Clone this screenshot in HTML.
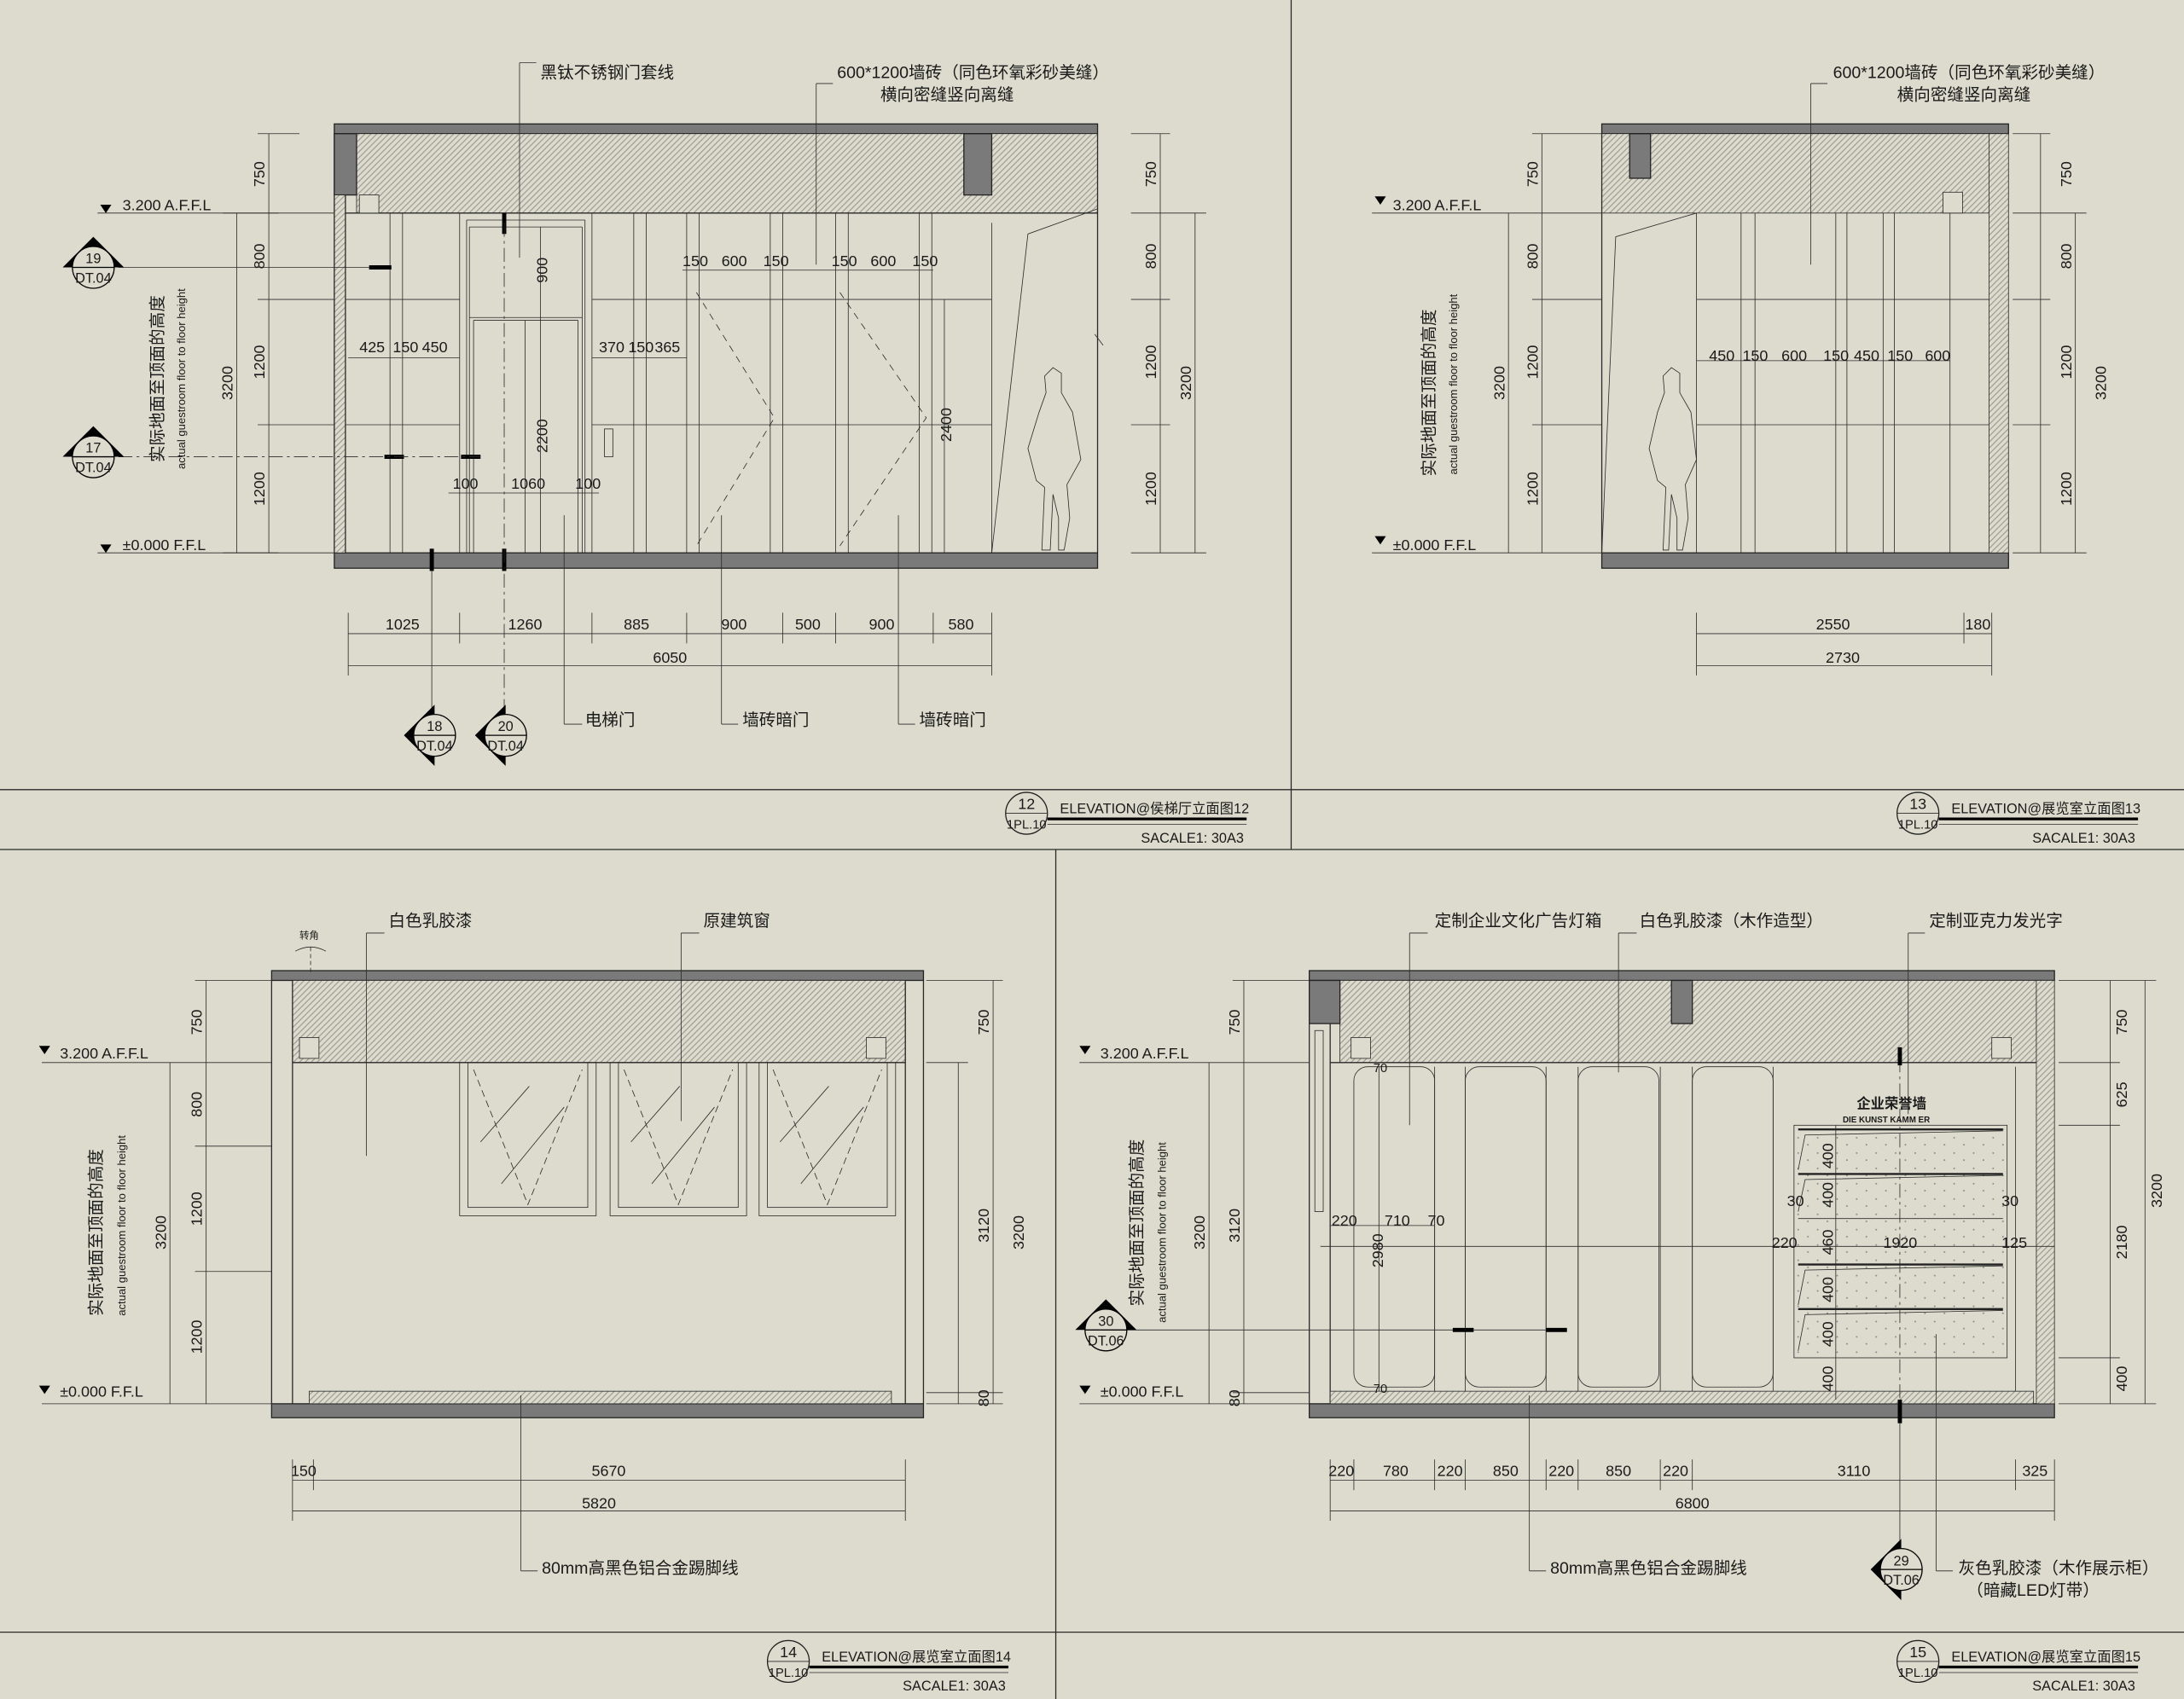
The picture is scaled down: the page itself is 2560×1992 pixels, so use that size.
<!DOCTYPE html>
<html><head><meta charset="utf-8"><style>
html,body{margin:0;padding:0;background:#dcdbcd;}
svg{display:block}
text{font-family:"Liberation Sans","Noto Sans CJK SC",sans-serif;fill:#1a1a1a}
.l{stroke:#2a2a2a;stroke-width:0.8;fill:none}
.t{stroke:#2a2a2a;stroke-width:0.5;fill:none}
.g{fill:#7a7a7a;stroke:#222;stroke-width:0.8}
.hh{fill:url(#h);stroke:#2a2a2a;stroke-width:0.5}
.dd{fill:url(#dots);stroke:#2a2a2a;stroke-width:0.5}
.d{font-size:11px}
.c{font-size:12px}
.s{font-size:8px}
</style></head><body>
<svg width="2560" height="1992" viewBox="0 0 1568 1220" preserveAspectRatio="none" xmlns="http://www.w3.org/2000/svg">
<defs>
<pattern id="h" width="3" height="3" patternUnits="userSpaceOnUse" patternTransform="rotate(45)"><rect width="3" height="3" fill="#dcdbcd"/><rect x="1" y="0" width="0.6" height="3" fill="#8f8f86"/></pattern>
<pattern id="dots" width="14" height="11" patternUnits="userSpaceOnUse"><circle cx="3" cy="3" r="0.6" fill="#888"/><circle cx="10" cy="8" r="0.6" fill="#888"/></pattern>
<g id="symU"><path d="M-22,0 L0,-22 L22,0z" fill="#000"/><circle r="15" fill="#dcdbcd" stroke="#000" stroke-width="0.8"/><line x1="-15" y1="0" x2="15" y2="0" stroke="#000" stroke-width="0.8"/></g>
<g id="symL"><path d="M0,-22 L-22,0 L0,22z" fill="#000"/><circle r="15" fill="#dcdbcd" stroke="#000" stroke-width="0.8"/><line x1="-15" y1="0" x2="15" y2="0" stroke="#000" stroke-width="0.8"/></g>
</defs>
<rect width="1568" height="1220" fill="#dcdbcd"/>
<g class="l" stroke="#555">
<line x1="0" y1="567" x2="1568" y2="567"/>
<line x1="0" y1="610" x2="1568" y2="610"/>
<line x1="927" y1="0" x2="927" y2="610"/>
<line x1="758" y1="610" x2="758" y2="1220"/>
<line x1="0" y1="1172" x2="1568" y2="1172"/>
</g>

<!-- ========== PANEL 12 ========== -->
<rect x="240" y="89" width="548" height="7" class="g"/>
<rect x="256" y="96" width="532" height="57" class="hh"/>
<rect x="240" y="96" width="16" height="44" class="g"/>
<rect x="692" y="96" width="20" height="44" class="g"/>
<rect x="240" y="397" width="548" height="11" class="g"/>
<rect x="240" y="140" width="8" height="257" class="hh"/>
<line x1="240" y1="96" x2="240" y2="397" class="l"/><line x1="248" y1="140" x2="248" y2="397" class="l"/>
<line x1="788" y1="96" x2="788" y2="397" class="l"/>
<line x1="248" y1="153" x2="788" y2="153" class="l"/>
<rect x="258" y="140" width="14" height="13" class="t" style="fill:#dcdbcd"/>
<g class="t">
<line x1="248" y1="215" x2="330" y2="215"/><line x1="248" y1="305" x2="330" y2="305"/>
<line x1="425" y1="215" x2="712" y2="215"/><line x1="425" y1="305" x2="712" y2="305"/>
<line x1="280" y1="153" x2="280" y2="397"/><line x1="289" y1="153" x2="289" y2="397"/>
<line x1="330" y1="153" x2="330" y2="397"/><line x1="335" y1="158" x2="335" y2="397"/>
<line x1="420" y1="158" x2="420" y2="397"/><line x1="425" y1="153" x2="425" y2="397"/>
<line x1="335" y1="158" x2="420" y2="158"/><line x1="337" y1="163" x2="418" y2="163"/>
<line x1="337" y1="163" x2="337" y2="397"/><line x1="418" y1="163" x2="418" y2="397"/>
<line x1="337" y1="228" x2="418" y2="228"/><line x1="340" y1="230" x2="415" y2="230"/>
<line x1="340" y1="230" x2="340" y2="397"/><line x1="415" y1="230" x2="415" y2="397"/>
<line x1="377" y1="230" x2="377" y2="397"/>
<line x1="455" y1="153" x2="455" y2="397"/><line x1="464" y1="153" x2="464" y2="397"/>
<line x1="493" y1="153" x2="493" y2="397"/><line x1="502" y1="153" x2="502" y2="397"/>
<line x1="553" y1="153" x2="553" y2="397"/><line x1="562" y1="153" x2="562" y2="397"/>
<line x1="600" y1="153" x2="600" y2="397"/><line x1="609" y1="153" x2="609" y2="397"/>
<line x1="660" y1="153" x2="660" y2="397"/><line x1="669" y1="153" x2="669" y2="397"/>
<line x1="712" y1="160" x2="712" y2="397"/>
<polyline points="712,397 738,168 788,150"/>
</g>
<g class="t" stroke-dasharray="5,4"><polyline points="500,210 556,300 500,392"/><polyline points="603,210 665,300 603,392"/></g>
<rect x="434" y="308" width="6" height="20" class="t"/>
<path d="M748,395 L750,350 L744,345 L738,322 L746,296 L751,282 L750,270 L756,264 L762,268 L762,282 L770,296 L776,330 L766,348 L768,372 L764,395 L760,395 L760,372 L756,355 L754,395 Z" class="t"/>
<line x1="786" y1="240" x2="792" y2="248" class="t"/>
<g stroke="#000" stroke-width="3"><line x1="265" y1="192" x2="281" y2="192"/><line x1="276" y1="328" x2="290" y2="328"/><line x1="331" y1="328" x2="345" y2="328"/><line x1="310" y1="394" x2="310" y2="410"/><line x1="362" y1="394" x2="362" y2="410"/><line x1="362" y1="153" x2="362" y2="168"/></g>
<line x1="85" y1="192" x2="265" y2="192" class="t"/><line x1="85" y1="328" x2="345" y2="328" class="t" stroke-dasharray="10,3,2,3"/>
<line x1="310" y1="410" x2="310" y2="520" class="t"/><line x1="362" y1="160" x2="362" y2="520" class="t" stroke-dasharray="10,3,2,3"/>
<g class="t">
<line x1="193" y1="96" x2="193" y2="397"/><line x1="170" y1="153" x2="170" y2="397"/>
<line x1="185" y1="96" x2="215" y2="96"/><line x1="160" y1="153" x2="240" y2="153"/><line x1="185" y1="215" x2="240" y2="215"/><line x1="185" y1="305" x2="240" y2="305"/><line x1="160" y1="397" x2="240" y2="397"/>
<line x1="833" y1="96" x2="833" y2="397"/><line x1="858" y1="153" x2="858" y2="397"/>
<line x1="812" y1="96" x2="840" y2="96"/><line x1="812" y1="153" x2="866" y2="153"/><line x1="812" y1="215" x2="840" y2="215"/><line x1="812" y1="305" x2="840" y2="305"/><line x1="812" y1="397" x2="866" y2="397"/>
<line x1="70" y1="153" x2="200" y2="153"/><line x1="70" y1="397" x2="200" y2="397"/>
</g>
<g class="d">
<text transform="translate(190,125) rotate(-90)" text-anchor="middle">750</text>
<text transform="translate(190,184) rotate(-90)" text-anchor="middle">800</text>
<text transform="translate(190,260) rotate(-90)" text-anchor="middle">1200</text>
<text transform="translate(190,351) rotate(-90)" text-anchor="middle">1200</text>
<text transform="translate(167,275) rotate(-90)" text-anchor="middle">3200</text>
<text transform="translate(830,125) rotate(-90)" text-anchor="middle">750</text>
<text transform="translate(830,184) rotate(-90)" text-anchor="middle">800</text>
<text transform="translate(830,260) rotate(-90)" text-anchor="middle">1200</text>
<text transform="translate(830,351) rotate(-90)" text-anchor="middle">1200</text>
<text transform="translate(855,275) rotate(-90)" text-anchor="middle">3200</text>
<text x="88" y="151">3.200  A.F.F.L</text><text x="88" y="395">±0.000  F.F.L</text>
</g>
<path d="M72,147 h8 l-4,6z M72,391 h8 l-4,6z" fill="#000"/>
<text class="c" transform="translate(117,272) rotate(-90)" text-anchor="middle">实际地面至顶面的高度</text>
<text class="s" transform="translate(133,272) rotate(-90)" text-anchor="middle" font-family="Liberation Mono">actual guestroom floor to floor height</text>
<g class="d">
<text x="258" y="253">425</text><text x="282" y="253">150</text><text x="303" y="253">450</text>
<text x="430" y="253">370</text><text x="451" y="253">150</text><text x="470" y="253">365</text>
<text x="490" y="191">150</text><text x="518" y="191">600</text><text x="548" y="191">150</text>
<text x="597" y="191">150</text><text x="625" y="191">600</text><text x="655" y="191">150</text>
<text x="325" y="351">100</text><text x="367" y="351">1060</text><text x="413" y="351">100</text>
<text transform="translate(393,194) rotate(-90)" text-anchor="middle">900</text>
<text transform="translate(393,313) rotate(-90)" text-anchor="middle">2200</text>
<text transform="translate(683,305) rotate(-90)" text-anchor="middle">2400</text>
</g>
<g class="t"><line x1="250" y1="257" x2="330" y2="257"/><line x1="425" y1="257" x2="493" y2="257"/><line x1="490" y1="194" x2="670" y2="194"/><line x1="322" y1="354" x2="430" y2="354"/><line x1="388" y1="163" x2="388" y2="397"/><line x1="678" y1="215" x2="678" y2="397"/></g>
<g class="t"><line x1="250" y1="455" x2="712" y2="455"/><line x1="250" y1="478" x2="712" y2="478"/>
<line x1="250" y1="440" x2="250" y2="485"/><line x1="330" y1="440" x2="330" y2="462"/><line x1="425" y1="440" x2="425" y2="462"/><line x1="493" y1="440" x2="493" y2="462"/><line x1="562" y1="440" x2="562" y2="462"/><line x1="600" y1="440" x2="600" y2="462"/><line x1="670" y1="440" x2="670" y2="462"/><line x1="712" y1="440" x2="712" y2="485"/></g>
<g class="d" text-anchor="middle"><text x="289" y="452">1025</text><text x="377" y="452">1260</text><text x="457" y="452">885</text><text x="527" y="452">900</text><text x="580" y="452">500</text><text x="633" y="452">900</text><text x="690" y="452">580</text><text x="481" y="476">6050</text></g>
<g class="t"><line x1="373" y1="45" x2="373" y2="185"/><line x1="373" y1="45" x2="385" y2="45"/><line x1="586" y1="60" x2="586" y2="190"/><line x1="586" y1="60" x2="598" y2="60"/>
<line x1="405" y1="370" x2="405" y2="520"/><line x1="405" y1="520" x2="418" y2="520"/>
<line x1="518" y1="370" x2="518" y2="520"/><line x1="518" y1="520" x2="530" y2="520"/>
<line x1="645" y1="370" x2="645" y2="520"/><line x1="645" y1="520" x2="657" y2="520"/></g>
<g class="c"><text x="388" y="56">黑钛不锈钢门套线</text><text x="601" y="56">600*1200墙砖（同色环氧彩砂美缝）</text><text x="632" y="72">横向密缝竖向离缝</text>
<text x="420" y="521">电梯门</text><text x="533" y="521">墙砖暗门</text><text x="660" y="521">墙砖暗门</text></g>
<g font-size="10" text-anchor="middle">
<g transform="translate(67,192)"><use href="#symU"/><text y="-3">19</text><text y="11">DT.04</text></g>
<g transform="translate(67,328)"><use href="#symU"/><text y="-3">17</text><text y="11">DT.04</text></g>
<g transform="translate(312,528)"><use href="#symL"/><text y="-3">18</text><text y="11">DT.04</text></g>
<g transform="translate(363,528)"><use href="#symL"/><text y="-3">20</text><text y="11">DT.04</text></g>
</g>

<!-- ========== PANEL 13 ========== -->
<rect x="1150" y="89" width="292" height="7" class="g"/>
<rect x="1150" y="96" width="278" height="57" class="hh"/>
<rect x="1170" y="96" width="15" height="32" class="g"/>
<rect x="1150" y="397" width="292" height="11" class="g"/>
<rect x="1428" y="96" width="14" height="301" class="hh"/>
<line x1="1150" y1="96" x2="1150" y2="397" class="l"/>
<rect x="1395" y="138" width="14" height="15" class="t" style="fill:#dcdbcd"/>
<g class="t">
<line x1="1218" y1="215" x2="1428" y2="215"/><line x1="1218" y1="305" x2="1428" y2="305"/>
<line x1="1218" y1="153" x2="1218" y2="397"/><line x1="1250" y1="153" x2="1250" y2="397"/><line x1="1260" y1="153" x2="1260" y2="397"/><line x1="1318" y1="153" x2="1318" y2="397"/><line x1="1326" y1="153" x2="1326" y2="397"/><line x1="1352" y1="153" x2="1352" y2="397"/><line x1="1360" y1="153" x2="1360" y2="397"/><line x1="1400" y1="153" x2="1400" y2="397"/>
<polyline points="1150,397 1160,170 1218,153"/>
<path d="M1194,395 L1196,350 L1190,345 L1184,322 L1190,296 L1195,282 L1194,270 L1200,264 L1206,268 L1206,282 L1214,296 L1218,330 L1210,348 L1212,372 L1208,395 L1204,395 L1204,372 L1200,355 L1198,395 Z"/>
<line x1="1218" y1="259" x2="1400" y2="259"/>
<line x1="1300" y1="60" x2="1300" y2="190"/><line x1="1300" y1="60" x2="1312" y2="60"/>
<line x1="1107" y1="96" x2="1107" y2="397"/><line x1="1083" y1="153" x2="1083" y2="397"/>
<line x1="1100" y1="96" x2="1150" y2="96"/><line x1="985" y1="153" x2="1150" y2="153"/><line x1="1100" y1="215" x2="1150" y2="215"/><line x1="1100" y1="305" x2="1150" y2="305"/><line x1="985" y1="397" x2="1150" y2="397"/>
<line x1="1465" y1="96" x2="1465" y2="397"/><line x1="1490" y1="153" x2="1490" y2="397"/>
<line x1="1445" y1="96" x2="1472" y2="96"/><line x1="1445" y1="153" x2="1498" y2="153"/><line x1="1445" y1="215" x2="1472" y2="215"/><line x1="1445" y1="305" x2="1472" y2="305"/><line x1="1445" y1="397" x2="1498" y2="397"/>
<line x1="1218" y1="455" x2="1430" y2="455"/><line x1="1218" y1="478" x2="1430" y2="478"/><line x1="1218" y1="440" x2="1218" y2="485"/><line x1="1410" y1="440" x2="1410" y2="462"/><line x1="1430" y1="440" x2="1430" y2="485"/>
</g>
<path d="M987,141 h8 l-4,6z M987,385 h8 l-4,6z" fill="#000"/>
<g class="d">
<text x="1000" y="151">3.200  A.F.F.L</text><text x="1000" y="395">±0.000  F.F.L</text>
<text transform="translate(1104,125) rotate(-90)" text-anchor="middle">750</text>
<text transform="translate(1104,184) rotate(-90)" text-anchor="middle">800</text>
<text transform="translate(1104,260) rotate(-90)" text-anchor="middle">1200</text>
<text transform="translate(1104,351) rotate(-90)" text-anchor="middle">1200</text>
<text transform="translate(1080,275) rotate(-90)" text-anchor="middle">3200</text>
<text transform="translate(1487,125) rotate(-90)" text-anchor="middle">750</text>
<text transform="translate(1487,184) rotate(-90)" text-anchor="middle">800</text>
<text transform="translate(1487,260) rotate(-90)" text-anchor="middle">1200</text>
<text transform="translate(1487,351) rotate(-90)" text-anchor="middle">1200</text>
<text transform="translate(1512,275) rotate(-90)" text-anchor="middle">3200</text>
<text x="1227" y="259">450</text><text x="1251" y="259">150</text><text x="1279" y="259">600</text><text x="1309" y="259">150</text><text x="1331" y="259">450</text><text x="1355" y="259">150</text><text x="1382" y="259">600</text>
<text x="1316" y="452" text-anchor="middle">2550</text><text x="1420" y="452" text-anchor="middle">180</text><text x="1323" y="476" text-anchor="middle">2730</text>
</g>
<text class="c" x="1316" y="56">600*1200墙砖（同色环氧彩砂美缝）</text><text class="c" x="1362" y="72">横向密缝竖向离缝</text>
<text class="c" transform="translate(1030,282) rotate(-90)" text-anchor="middle">实际地面至顶面的高度</text>
<text class="s" transform="translate(1046,276) rotate(-90)" text-anchor="middle" font-family="Liberation Mono">actual guestroom floor to floor height</text>

<!-- ========== PANEL 14 ========== -->
<rect x="195" y="697" width="468" height="7" class="g"/>
<rect x="210" y="704" width="440" height="59" class="hh"/>
<rect x="195" y="1008" width="468" height="10" class="g"/>
<line x1="195" y1="704" x2="195" y2="1008" class="l"/><line x1="210" y1="704" x2="210" y2="1008" class="l"/>
<line x1="663" y1="704" x2="663" y2="1008" class="l"/><line x1="650" y1="704" x2="650" y2="1008" class="l"/>
<rect x="215" y="745" width="14" height="15" class="t" style="fill:#dcdbcd"/><rect x="622" y="745" width="14" height="15" class="t" style="fill:#dcdbcd"/>
<line x1="210" y1="763" x2="650" y2="763" class="l"/>
<rect x="222" y="999" width="418" height="9" class="hh"/>
<g class="t">
<rect x="330" y="763" width="98" height="110"/><rect x="336" y="763" width="86" height="104"/>
<rect x="438" y="763" width="98" height="110"/><rect x="444" y="763" width="86" height="104"/>
<rect x="545" y="763" width="98" height="110"/><rect x="551" y="763" width="86" height="104"/>
<g stroke-dasharray="5,3"><polyline points="340,768 379,865 418,768"/><polyline points="448,768 487,865 526,768"/><polyline points="555,768 594,865 633,768"/></g>
<line x1="345" y1="820" x2="380" y2="780"/><line x1="360" y1="850" x2="405" y2="795"/><line x1="453" y1="820" x2="488" y2="780"/><line x1="468" y1="850" x2="513" y2="795"/><line x1="560" y1="820" x2="595" y2="780"/><line x1="575" y1="850" x2="620" y2="795"/>
<line x1="263" y1="670" x2="263" y2="830"/><line x1="263" y1="670" x2="276" y2="670"/>
<line x1="489" y1="670" x2="489" y2="805"/><line x1="489" y1="670" x2="502" y2="670"/>
<line x1="374" y1="1002" x2="374" y2="1128"/><line x1="374" y1="1128" x2="386" y2="1128"/>
<line x1="223" y1="680" x2="223" y2="700" stroke-dasharray="3,2"/>
<line x1="148" y1="704" x2="148" y2="1008"/><line x1="122" y1="763" x2="122" y2="1008"/>
<line x1="140" y1="704" x2="195" y2="704"/><line x1="30" y1="763" x2="195" y2="763"/><line x1="140" y1="823" x2="195" y2="823"/><line x1="140" y1="913" x2="195" y2="913"/><line x1="30" y1="1008" x2="195" y2="1008"/>
<line x1="688" y1="763" x2="688" y2="1008"/><line x1="713" y1="704" x2="713" y2="1008"/>
<line x1="665" y1="704" x2="720" y2="704"/><line x1="665" y1="763" x2="695" y2="763"/><line x1="665" y1="1000" x2="720" y2="1000"/><line x1="665" y1="1008" x2="720" y2="1008"/>
<line x1="210" y1="1063" x2="650" y2="1063"/><line x1="210" y1="1085" x2="650" y2="1085"/><line x1="210" y1="1048" x2="210" y2="1092"/><line x1="225" y1="1048" x2="225" y2="1070"/><line x1="650" y1="1048" x2="650" y2="1092"/>
</g>
<path d="M212,683 q11,-6 22,0" class="t"/>
<text x="215" y="674" font-size="7">转角</text>
<path d="M28,751 h8 l-4,6z M28,995 h8 l-4,6z" fill="#000"/>
<g class="d">
<text x="43" y="760">3.200  A.F.F.L</text><text x="43" y="1003">±0.000  F.F.L</text>
<text transform="translate(145,734) rotate(-90)" text-anchor="middle">750</text>
<text transform="translate(145,793) rotate(-90)" text-anchor="middle">800</text>
<text transform="translate(145,868) rotate(-90)" text-anchor="middle">1200</text>
<text transform="translate(145,960) rotate(-90)" text-anchor="middle">1200</text>
<text transform="translate(119,885) rotate(-90)" text-anchor="middle">3200</text>
<text transform="translate(710,734) rotate(-90)" text-anchor="middle">750</text>
<text transform="translate(710,880) rotate(-90)" text-anchor="middle">3120</text>
<text transform="translate(735,885) rotate(-90)" text-anchor="middle">3200</text>
<text transform="translate(710,1004) rotate(-90)" text-anchor="middle">80</text>
<text x="218" y="1060" text-anchor="middle">150</text><text x="437" y="1060" text-anchor="middle">5670</text><text x="430" y="1083" text-anchor="middle">5820</text>
</g>
<g class="c"><text x="279" y="665">白色乳胶漆</text><text x="505" y="665">原建筑窗</text><text x="389" y="1130">80mm高黑色铝合金踢脚线</text></g>
<text class="c" transform="translate(73,885) rotate(-90)" text-anchor="middle">实际地面至顶面的高度</text>
<text class="s" transform="translate(90,880) rotate(-90)" text-anchor="middle" font-family="Liberation Mono">actual guestroom floor to floor height</text>

<!-- ========== PANEL 15 ========== -->
<rect x="940" y="697" width="535" height="7" class="g"/>
<rect x="962" y="704" width="500" height="59" class="hh"/>
<rect x="940" y="704" width="22" height="31" class="g"/>
<rect x="1200" y="704" width="15" height="31" class="g"/>
<rect x="940" y="1008" width="535" height="10" class="g"/>
<rect x="1462" y="704" width="13" height="304" class="hh"/>
<line x1="940" y1="735" x2="940" y2="1008" class="l"/><line x1="955" y1="735" x2="955" y2="1008" class="l"/>
<line x1="955" y1="763" x2="1462" y2="763" class="l"/>
<rect x="970" y="745" width="14" height="15" class="t" style="fill:#dcdbcd"/><rect x="1430" y="745" width="14" height="15" class="t" style="fill:#dcdbcd"/>
<rect x="955" y="999" width="505" height="9" class="hh"/>
<rect x="944" y="740" width="6" height="130" class="t"/>
<g class="t">
<rect x="972" y="766" width="58" height="230" rx="10"/><rect x="1052" y="766" width="58" height="230" rx="10"/><rect x="1133" y="766" width="58" height="230" rx="10"/><rect x="1215" y="766" width="58" height="230" rx="10"/>
<line x1="1030" y1="766" x2="1030" y2="999"/><line x1="1052" y1="766" x2="1052" y2="999"/><line x1="1110" y1="766" x2="1110" y2="999"/><line x1="1133" y1="766" x2="1133" y2="999"/><line x1="1192" y1="766" x2="1192" y2="999"/><line x1="1215" y1="766" x2="1215" y2="999"/><line x1="1273" y1="766" x2="1273" y2="999"/>
<line x1="1447" y1="766" x2="1447" y2="999"/>
</g>
<rect x="1288" y="808" width="153" height="167" class="dd"/>
<g stroke="#222" stroke-width="1.5"><line x1="1291" y1="811" x2="1438" y2="811"/><line x1="1291" y1="843" x2="1438" y2="843"/><line x1="1291" y1="908" x2="1438" y2="908"/><line x1="1291" y1="940" x2="1438" y2="940"/></g>
<g class="t"><line x1="1291" y1="875" x2="1438" y2="875"/><polyline points="1291,840 1296,815 1438,812"/><polyline points="1291,870 1296,847 1438,844"/><polyline points="1291,937 1296,912 1438,909"/><polyline points="1291,970 1296,944 1438,941"/>
<line x1="1364" y1="760" x2="1364" y2="1015" stroke-dasharray="10,3,2,3"/>
<line x1="1318" y1="808" x2="1318" y2="1005"/>
<line x1="948" y1="895" x2="1475" y2="895"/>
<line x1="1012" y1="670" x2="1012" y2="808"/><line x1="1012" y1="670" x2="1025" y2="670"/>
<line x1="1162" y1="670" x2="1162" y2="770"/><line x1="1162" y1="670" x2="1175" y2="670"/>
<line x1="1370" y1="670" x2="1370" y2="800"/><line x1="1370" y1="670" x2="1382" y2="670"/>
<line x1="1098" y1="1002" x2="1098" y2="1128"/><line x1="1098" y1="1128" x2="1110" y2="1128"/>
<line x1="1390" y1="958" x2="1390" y2="1128"/><line x1="1390" y1="1128" x2="1402" y2="1128"/>
<line x1="955" y1="880" x2="1030" y2="880"/><line x1="990" y1="766" x2="990" y2="999"/>
<line x1="893" y1="704" x2="893" y2="1008"/><line x1="868" y1="763" x2="868" y2="1008"/>
<line x1="885" y1="704" x2="940" y2="704"/><line x1="775" y1="763" x2="940" y2="763"/><line x1="775" y1="1008" x2="940" y2="1008"/><line x1="885" y1="1000" x2="940" y2="1000"/>
<line x1="1515" y1="704" x2="1515" y2="1008"/><line x1="1540" y1="704" x2="1540" y2="1008"/>
<line x1="1478" y1="704" x2="1548" y2="704"/><line x1="1478" y1="763" x2="1522" y2="763"/><line x1="1478" y1="808" x2="1522" y2="808"/><line x1="1478" y1="975" x2="1522" y2="975"/><line x1="1478" y1="1008" x2="1548" y2="1008"/>
<line x1="955" y1="1063" x2="1475" y2="1063"/><line x1="955" y1="1085" x2="1475" y2="1085"/>
<line x1="955" y1="1048" x2="955" y2="1092"/><line x1="1475" y1="1048" x2="1475" y2="1092"/>
<line x1="972" y1="1048" x2="972" y2="1070"/><line x1="1030" y1="1048" x2="1030" y2="1070"/><line x1="1052" y1="1048" x2="1052" y2="1070"/><line x1="1110" y1="1048" x2="1110" y2="1070"/><line x1="1133" y1="1048" x2="1133" y2="1070"/><line x1="1192" y1="1048" x2="1192" y2="1070"/><line x1="1215" y1="1048" x2="1215" y2="1070"/><line x1="1447" y1="1048" x2="1447" y2="1070"/>
<line x1="800" y1="955" x2="1125" y2="955"/>
</g>
<g stroke="#000" stroke-width="3"><line x1="1043" y1="955" x2="1058" y2="955"/><line x1="1110" y1="955" x2="1125" y2="955"/><line x1="1364" y1="1005" x2="1364" y2="1022"/><line x1="1364" y1="752" x2="1364" y2="765"/></g>
<text x="1333" y="796" font-size="10" font-weight="bold">企业荣誉墙</text>
<text x="1323" y="806" font-size="6" font-weight="bold">DIE KUNST KAMM ER</text>
<path d="M775,995 h8 l-4,6z M775,751 h8 l-4,6z" fill="#000"/>
<g class="d">
<text x="790" y="760">3.200  A.F.F.L</text><text x="790" y="1003">±0.000  F.F.L</text>
<text transform="translate(890,734) rotate(-90)" text-anchor="middle">750</text>
<text transform="translate(890,880) rotate(-90)" text-anchor="middle">3120</text>
<text transform="translate(865,885) rotate(-90)" text-anchor="middle">3200</text>
<text transform="translate(890,1004) rotate(-90)" text-anchor="middle">80</text>
<text transform="translate(1527,734) rotate(-90)" text-anchor="middle">750</text>
<text transform="translate(1527,786) rotate(-90)" text-anchor="middle">625</text>
<text transform="translate(1527,892) rotate(-90)" text-anchor="middle">2180</text>
<text transform="translate(1527,990) rotate(-90)" text-anchor="middle">400</text>
<text transform="translate(1552,855) rotate(-90)" text-anchor="middle">3200</text>
<text transform="translate(993,898) rotate(-90)" text-anchor="middle">2980</text>
<text x="956" y="880">220</text><text x="994" y="880">710</text><text x="1025" y="880">70</text>
<text x="1272" y="896">220</text><text x="1352" y="896">1920</text><text x="1437" y="896">125</text>
<text x="1283" y="866">30</text><text x="1437" y="866">30</text>
<text transform="translate(1316,830) rotate(-90)" text-anchor="middle">400</text>
<text transform="translate(1316,858) rotate(-90)" text-anchor="middle">400</text>
<text transform="translate(1316,892) rotate(-90)" text-anchor="middle">460</text>
<text transform="translate(1316,926) rotate(-90)" text-anchor="middle">400</text>
<text transform="translate(1316,958) rotate(-90)" text-anchor="middle">400</text>
<text transform="translate(1316,990) rotate(-90)" text-anchor="middle">400</text>
<text x="963" y="1060" text-anchor="middle">220</text><text x="1002" y="1060" text-anchor="middle">780</text><text x="1041" y="1060" text-anchor="middle">220</text><text x="1081" y="1060" text-anchor="middle">850</text><text x="1121" y="1060" text-anchor="middle">220</text><text x="1162" y="1060" text-anchor="middle">850</text><text x="1203" y="1060" text-anchor="middle">220</text><text x="1331" y="1060" text-anchor="middle">3110</text><text x="1461" y="1060" text-anchor="middle">325</text>
<text x="1215" y="1083" text-anchor="middle">6800</text>
<text x="986" y="770" font-size="9">70</text><text x="986" y="1000" font-size="9">70</text>
</g>
<g class="c"><text x="1030" y="665">定制企业文化广告灯箱</text><text x="1177" y="665">白色乳胶漆（木作造型）</text><text x="1385" y="665">定制亚克力发光字</text>
<text x="1113" y="1130">80mm高黑色铝合金踢脚线</text><text x="1406" y="1130">灰色乳胶漆（木作展示柜）</text><text x="1412" y="1146">（暗藏LED灯带）</text></g>
<text class="c" transform="translate(820,878) rotate(-90)" text-anchor="middle">实际地面至顶面的高度</text>
<text class="s" transform="translate(837,885) rotate(-90)" text-anchor="middle" font-family="Liberation Mono">actual guestroom floor to floor height</text>
<line x1="1364" y1="1022" x2="1364" y2="1107" class="t"/>
<g font-size="10" text-anchor="middle">
<g transform="translate(794,955)"><use href="#symU"/><text y="-3">30</text><text y="11">DT.06</text></g>
<g transform="translate(1365,1127)"><use href="#symL"/><text y="-3">29</text><text y="11">DT.06</text></g>
</g>

<!-- ========== TITLE BLOCKS ========== -->
<g font-size="10">
<g transform="translate(737,584)"><circle r="15" fill="none" stroke="#222" stroke-width="0.8"/><line x1="-15" y1="0" x2="15" y2="0" class="t"/><text x="0" y="-3" text-anchor="middle" font-size="11">12</text><text x="0" y="11" text-anchor="middle" font-size="9">1PL.10</text>
<line x1="15" y1="4" x2="158" y2="4" stroke="#000" stroke-width="2"/><line x1="15" y1="8" x2="158" y2="8" class="t"/>
<text x="24" y="0">ELEVATION@侯梯厅立面图12</text><text x="156" y="21" text-anchor="end">SACALE1: 30A3</text></g>
<g transform="translate(1377,584)"><circle r="15" fill="none" stroke="#222" stroke-width="0.8"/><line x1="-15" y1="0" x2="15" y2="0" class="t"/><text x="0" y="-3" text-anchor="middle" font-size="11">13</text><text x="0" y="11" text-anchor="middle" font-size="9">1PL.10</text>
<line x1="15" y1="4" x2="158" y2="4" stroke="#000" stroke-width="2"/><line x1="15" y1="8" x2="158" y2="8" class="t"/>
<text x="24" y="0">ELEVATION@展览室立面图13</text><text x="156" y="21" text-anchor="end">SACALE1: 30A3</text></g>
<g transform="translate(566,1193)"><circle r="15" fill="none" stroke="#222" stroke-width="0.8"/><line x1="-15" y1="0" x2="15" y2="0" class="t"/><text x="0" y="-3" text-anchor="middle" font-size="11">14</text><text x="0" y="11" text-anchor="middle" font-size="9">1PL.10</text>
<line x1="15" y1="4" x2="158" y2="4" stroke="#000" stroke-width="2"/><line x1="15" y1="8" x2="158" y2="8" class="t"/>
<text x="24" y="0">ELEVATION@展览室立面图14</text><text x="156" y="21" text-anchor="end">SACALE1: 30A3</text></g>
<g transform="translate(1377,1193)"><circle r="15" fill="none" stroke="#222" stroke-width="0.8"/><line x1="-15" y1="0" x2="15" y2="0" class="t"/><text x="0" y="-3" text-anchor="middle" font-size="11">15</text><text x="0" y="11" text-anchor="middle" font-size="9">1PL.10</text>
<line x1="15" y1="4" x2="158" y2="4" stroke="#000" stroke-width="2"/><line x1="15" y1="8" x2="158" y2="8" class="t"/>
<text x="24" y="0">ELEVATION@展览室立面图15</text><text x="156" y="21" text-anchor="end">SACALE1: 30A3</text></g>
</g>
</svg>
</body></html>
